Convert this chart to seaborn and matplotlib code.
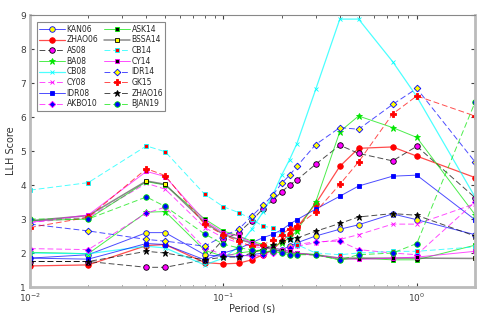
import numpy as np
import pandas as pd
import matplotlib
matplotlib.use("Agg")
import matplotlib.pyplot as plt
import seaborn as sns

periods = [0.01, 0.02, 0.04, 0.05, 0.08, 0.1, 0.12, 0.14, 0.16, 0.18, 0.2, 0.22, 0.24, 0.3, 0.4, 0.5, 0.75, 1.0, 2.0]

KAN06  = [1.85, 1.95, 2.60, 2.60, 1.95, 1.90, 1.90, 1.95, 2.00, 2.05, 2.10, 2.20, 2.30, 2.50, 2.70, 2.83, 3.15, 2.98, 2.54]
ZHAO06 = [1.62, 1.65, 2.22, 2.25, 1.72, 1.68, 1.70, 1.80, 1.95, 2.10, 2.35, 2.55, 2.75, 3.45, 4.55, 5.08, 5.12, 4.85, 4.22]
AS08   = [1.75, 1.75, 1.58, 1.58, 1.80, 2.40, 2.60, 2.95, 3.30, 3.55, 3.80, 4.00, 4.15, 4.61, 5.17, 4.93, 4.71, 5.14, 3.63]
BA08   = [2.02, 1.98, 3.20, 3.22, 2.08, 1.90, 2.00, 2.05, 2.10, 2.20, 2.30, 2.45, 2.65, 3.50, 5.57, 6.03, 5.69, 5.40, 3.13]
CB08   = [2.00, 1.98, 2.20, 2.15, 1.65, 1.85, 2.20, 2.70, 3.20, 3.70, 4.29, 4.75, 5.22, 6.81, 8.88, 8.88, 7.63, 6.60, 3.65]
CY08   = [2.90, 3.05, 4.05, 3.88, 2.75, 2.45, 2.30, 2.20, 2.15, 2.10, 2.10, 2.15, 2.20, 2.30, 2.40, 2.54, 2.85, 2.85, 3.45]
IDR08  = [1.85, 1.82, 2.28, 2.25, 1.80, 2.00, 2.13, 2.30, 2.45, 2.55, 2.68, 2.85, 2.98, 3.29, 3.67, 3.97, 4.26, 4.29, 2.98]
AKBO10 = [2.13, 2.10, 3.17, 3.35, 2.15, 1.95, 1.95, 1.90, 1.95, 2.00, 2.05, 2.15, 2.25, 2.33, 2.35, 2.10, 2.00, 1.95, 3.50]
ASK14  = [2.95, 3.00, 4.10, 4.00, 3.00, 2.65, 2.50, 2.35, 2.25, 2.15, 2.10, 2.05, 2.00, 1.95, 1.80, 1.85, 1.80, 1.80, 2.23]
BSSA14 = [2.95, 3.10, 4.12, 4.02, 2.90, 2.55, 2.40, 2.30, 2.20, 2.10, 2.05, 2.00, 1.98, 1.95, 1.85, 1.85, 1.85, 1.85, 1.84]
CB14   = [3.85, 4.07, 5.15, 4.98, 3.73, 3.36, 3.19, 3.00, 2.79, 2.74, 2.55, 2.40, 2.25, 2.00, 1.95, 2.00, 2.05, 2.05, 2.18]
CY14   = [2.90, 3.12, 4.40, 4.25, 2.95, 2.60, 2.50, 2.30, 2.20, 2.15, 2.10, 2.05, 2.00, 1.93, 1.84, 1.81, 1.85, 1.88, 2.05]
IDR14  = [2.85, 2.65, 2.40, 2.35, 2.20, 2.50, 2.70, 3.08, 3.40, 3.70, 4.05, 4.29, 4.55, 5.19, 5.69, 5.64, 6.37, 6.84, 4.68]
GK15   = [2.75, 3.05, 4.48, 4.28, 2.84, 2.54, 2.34, 2.20, 2.25, 2.37, 2.54, 2.72, 2.79, 3.21, 4.02, 4.68, 6.09, 6.62, 6.03]
ZHAO16 = [1.75, 1.75, 2.05, 2.00, 1.80, 1.88, 1.88, 2.00, 2.10, 2.23, 2.35, 2.40, 2.44, 2.64, 2.87, 3.06, 3.16, 3.11, 2.50]
BJAN19 = [3.00, 3.00, 3.65, 3.37, 2.56, 2.26, 2.15, 2.10, 2.05, 2.05, 2.00, 1.95, 1.95, 1.95, 1.80, 1.95, 2.00, 2.28, 6.43]

names = ["KAN06", "ZHAO06", "AS08", "BA08", "CB08", "CY08", "IDR08", "AKBO10",
         "ASK14", "BSSA14", "CB14", "CY14", "IDR14", "GK15", "ZHAO16", "BJAN19"]
values = [KAN06, ZHAO06, AS08, BA08, CB08, CY08, IDR08, AKBO10,
          ASK14, BSSA14, CB14, CY14, IDR14, GK15, ZHAO16, BJAN19]

B, R, G, C, M, Y, K = (0, 0, 1), (1, 0, 0), (0, 0.9, 0), (0, 1, 1), (1, 0, 1), (1, 1, 0), (0, 0, 0)
DASH = (0, (6, 3))
# (line color, linestyle, linewidth, marker, face, edge, size)
styles = [
    (B, "-", 0.7, "o", Y, B, 4.0),
    (R, "-", 0.9, "o", R, R, 4.0),
    (K, DASH, 0.7, "o", M, K, 4.0),
    (G, "-", 0.7, "*", G, G, 5.0),
    (C, "-", 0.9, "x", C, C, 3.5),
    (M, DASH, 0.7, "x", M, M, 3.5),
    (B, "-", 0.7, "s", B, B, 3.3),
    (M, DASH, 0.7, "D", B, M, 3.2),
    (G, "-", 0.7, "s", K, G, 3.3),
    ((0.35, 0.35, 0.35), "-", 1.1, "s", Y, K, 3.3),
    (C, DASH, 0.7, "s", R, C, 3.3),
    (M, "-", 0.7, "s", K, M, 3.3),
    (B, DASH, 0.7, "D", Y, B, 3.4),
    (R, DASH, 0.7, "P", R, R, 4.2),
    (K, DASH, 0.7, "*", K, K, 5.0),
    (G, DASH, 0.7, "o", B, G, 4.0),
]

sns.set_style("ticks")
plt.rcParams["font.family"] = ["DejaVu Sans"]

fig = plt.figure(figsize=(5.0, 3.13), dpi=100)
ax = fig.add_axes([0.06, 0.083, 0.89, 0.869])

for name, vals, st in zip(names, values, styles):
    lc, ls, lw, mk, fc, ec, ms = st
    df = pd.DataFrame({"Period": periods, "LLH": vals})
    sns.lineplot(data=df, x="Period", y="LLH", ax=ax, label=name,
                 color=lc + (0.7,), linestyle=ls, linewidth=lw,
                 marker=mk, markersize=ms, markerfacecolor=fc,
                 markeredgecolor=ec, markeredgewidth=0.6, sort=False)

ax.set_xscale("log")
ax.set_xlim(0.01, 2.0)
ax.set_ylim(1, 9)
ax.set_yticks(range(1, 10))
ax.set_xlabel("Period (s)", fontsize=7, labelpad=0, color="#333333")
ax.set_ylabel("LLH Score", fontsize=7, labelpad=3, color="#333333")
ax.tick_params(axis="both", which="both", direction="in", top=True, right=True,
               labelsize=6.5, colors="#404040", pad=3)
ax.tick_params(which="major", length=3)
ax.tick_params(which="minor", length=1.8)
for sp in ax.spines.values():
    sp.set_color("#888888")
    sp.set_linewidth(0.8)
for side in ("right", "bottom", "left"):
    ax.spines[side].set_color("#bbbbbb")
    ax.spines[side].set_linewidth(2)

leg = ax.legend(loc="upper left", ncol=2, fontsize=5.5, frameon=True, fancybox=False,
                edgecolor="#888888", framealpha=1, borderpad=0.3, labelspacing=0.22,
                handlelength=3.3, handletextpad=0.25, columnspacing=0.8,
                bbox_to_anchor=(0.016, 0.973), borderaxespad=0)
leg.get_frame().set_linewidth(0.8)

fig.savefig("out.png", dpi=100)
